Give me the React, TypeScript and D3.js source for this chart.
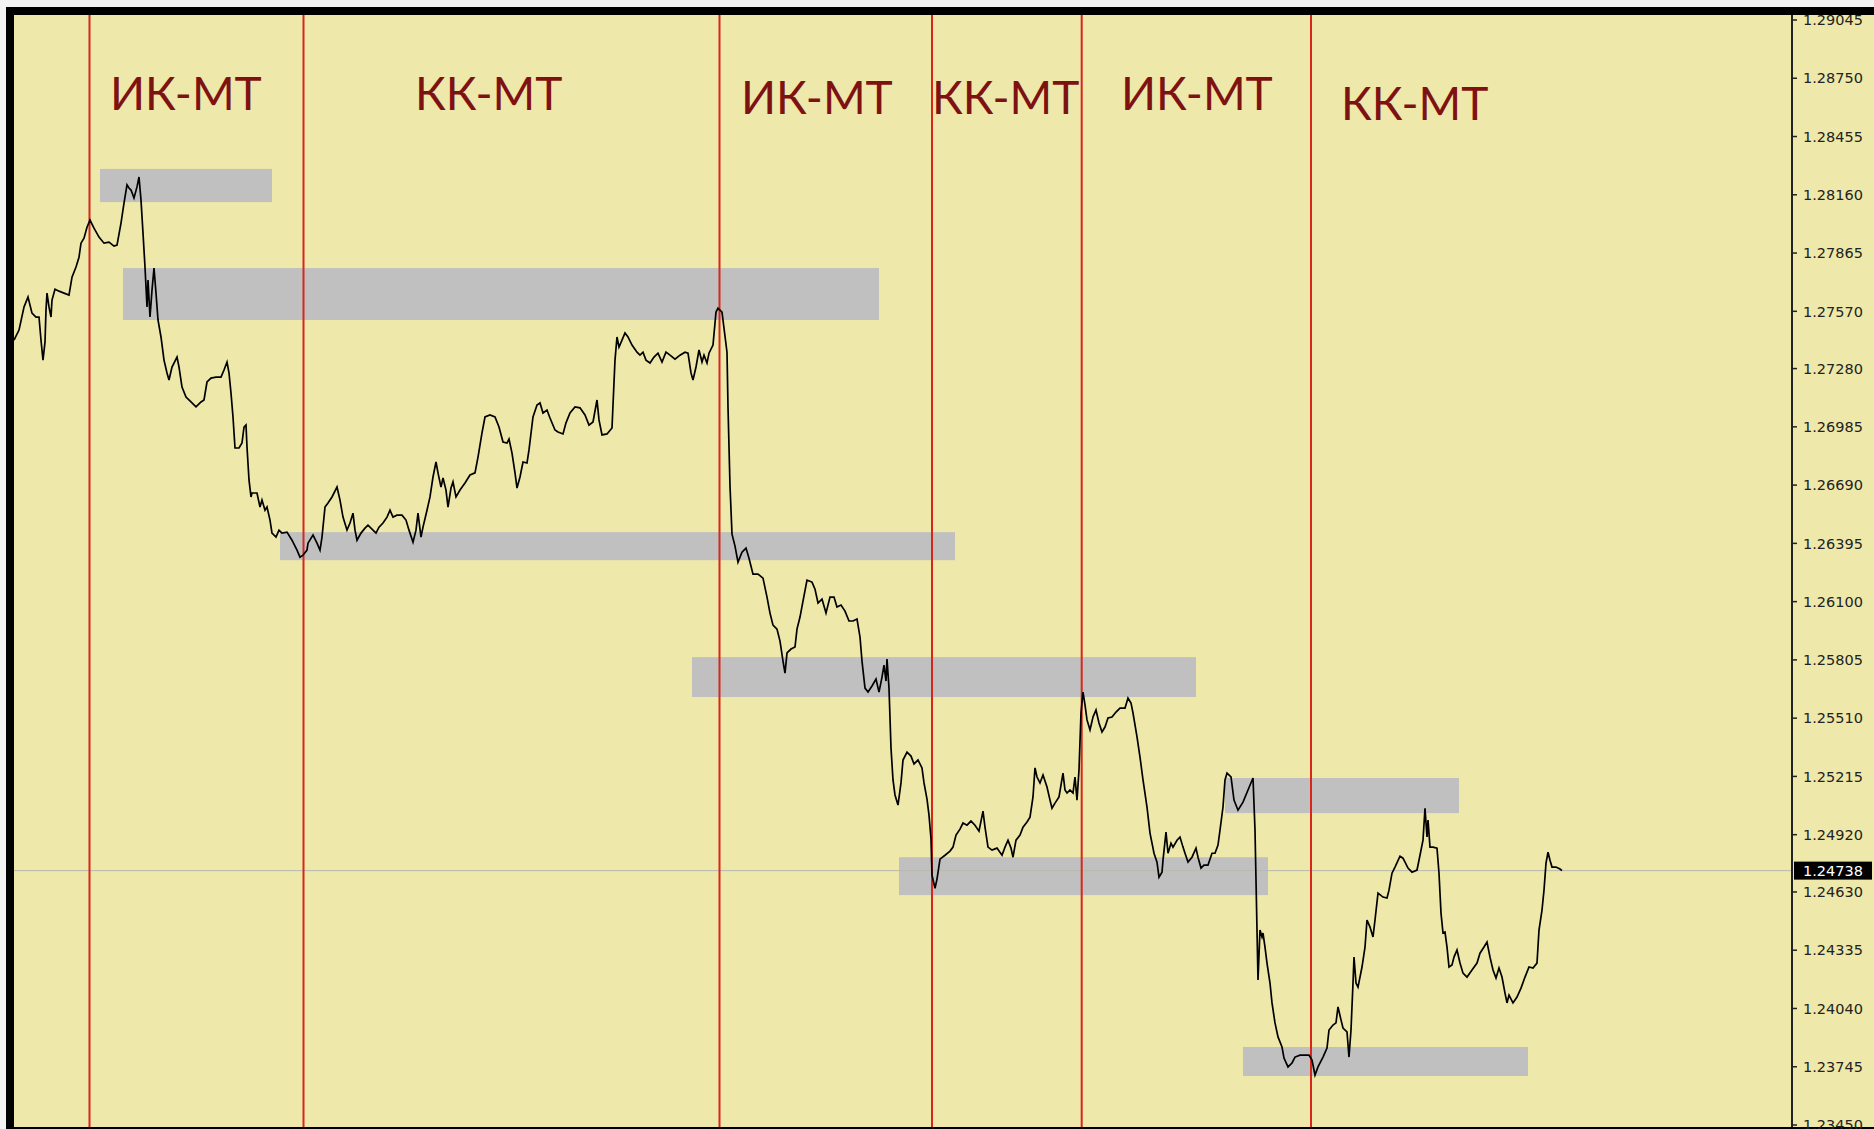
import React from "react";
import * as d3 from "d3";

// ---- data (bar index = time step, price) ----
const bars: number[] = [
  0,5,10,14,18,22,25,27,29,31,32,33,35,37,38,41,45,50,55,58,62,65,67,70,73,76,80,85,90,95,100,103,107,110,113,115,117,120,123,125,127,129,131,133,134,136,138,140,142,144,147,150,153,155,158,163,165,168,172,177,182,187,190,193,197,202,207,210,213,215,217,219,221,225,228,230,232,233,235,237,238,243,246,248,251,253,256,258,262,265,268,273,278,283,286,289,293,
  294,299,303,306,308,311,314,318,323,326,329,333,336,339,341,343,347,351,354,359,362,365,369,373,376,379,383,388,392,395,399,402,404,407,409,413,416,419,422,424,427,429,432,434,437,439,442,446,451,456,461,464,468,471,476,481,485,489,493,495,498,501,503,506,509,513,515,519,523,526,529,533,536,541,544,549,552,556,561,566,571,575,579,583,585,588,593,598,599,601,603,605,608,611,614,618,623,626,629,632,636,640,644,648,652,656,661,666,671,674,677,679,682,685,688,690,693,695,699,702,704,708,710,713,714,716,718,
  721,724,728,732,735,739,744,749,753,756,759,763,766,769,771,773,777,781,783,786,789,793,798,801,804,808,812,816,820,823,827,831,835,839,843,846,848,851,854,858,862,865,868,870,872,873,875,877,879,881,884,887,889,893,897,900,904,908,910,913,915,917,918,921,923,926,931,936,939,942,946,949,953,957,961,965,969,
  971,974,978,983,988,991,994,997,999,1002,1006,1009,1013,1016,1019,1021,1023,1026,1029,1033,1036,1038,1041,1045,1049,1051,1053,1056,1059,1061,1063,1065,1067,1069,1071,1073,1076,1079,1082,1085,1088,1091,1094,1098,1102,1106,1111,1114,1117,1119,1123,1126,1129,1133,1136,1139,1140,1143,1145,1148,1149,1152,1154,1157,1159,1163,1166,1169,1171,1174,1178,1182,1184,1187,1190,1194,1198,1201,1204,1206,1209,1211,1213,1217,1220,1224,1229,1234,1239,
  1241,1243,1244,1246,1248,1249,1251,1253,1256,1258,1261,1264,1268,1270,1274,1278,1281,1286,1291,1295,1298,1301,1304,1309,1313,1315,1319,1322,1324,1327,1329,1333,1335,1337,1339,1340,1342,1344,1348,1351,1353,1356,1359,1361,1364,1369,1373,1375,1378,1381,1386,1389,1394,1398,1403,1406,1409,1411,1413,1414,1416,1419,1423,1425,1427,1429,1431,1433,1435,1438,1440,1443,1446,1449,1453,1458,1463,1466,1470,1473,1476,1479,1482,1485,1488,1491,1493,1495,1499,1503,1507,1511,1515,1519,1523,1525,1528,1530,1532,1534,1536,1538,1542,1546,1548
];

const prices: number[] = [
  1.27424,1.27475,1.27592,1.27642,1.27561,1.27541,1.27541,1.27424,1.27323,1.27414,1.27576,1.27662,1.27592,1.27541,1.27627,1.27682,1.27672,1.27662,1.27652,1.27743,1.27794,1.27844,1.27915,1.27940,1.27996,1.28032,1.27991,1.27946,1.27915,1.27920,1.27900,1.27905,1.28017,1.28118,1.28210,1.28194,1.28184,1.28144,1.28200,1.28250,1.28133,1.27966,1.27794,1.27592,1.27728,1.27541,1.27677,1.27789,1.27662,1.27526,1.27440,1.27323,1.27258,1.27222,1.27288,1.27338,1.27288,1.27186,1.27136,1.27111,1.27086,1.27111,1.27121,1.27212,1.27232,1.27237,1.27237,1.27273,1.27313,1.27258,1.27156,1.27035,1.26878,1.26878,1.26903,1.26984,1.26994,1.26883,1.26716,1.26630,1.26650,1.26650,1.26579,1.26614,1.26563,1.26579,1.26513,1.26447,1.26427,1.26462,1.26447,1.26452,1.26411,1.26361,1.26325,1.26335,1.26361,
  1.26396,1.26437,1.26396,1.26361,1.26427,1.26579,1.26599,1.26630,1.26680,1.26614,1.26528,1.26462,1.26498,1.26548,1.26462,1.26411,1.26447,1.26472,1.26487,1.26462,1.26447,1.26477,1.26498,1.26528,1.26563,1.26528,1.26538,1.26538,1.26513,1.26462,1.26401,1.26462,1.26548,1.26427,1.26477,1.26563,1.26630,1.26731,1.26807,1.26752,1.26680,1.26726,1.26665,1.26579,1.26675,1.26706,1.26630,1.26665,1.26701,1.26741,1.26752,1.26832,1.26954,1.27035,1.27045,1.27035,1.26984,1.26908,1.26903,1.26923,1.26852,1.26752,1.26675,1.26731,1.26807,1.26802,1.26868,1.27035,1.27096,1.27106,1.27055,1.27070,1.27030,1.26969,1.26959,1.26949,1.27005,1.27055,1.27086,1.27081,1.27045,1.26994,1.27010,1.27121,1.27020,1.26944,1.26949,1.26979,1.27096,1.27323,1.27440,1.27389,1.27424,1.27460,1.27440,1.27399,1.27363,1.27348,1.27363,1.27323,1.27308,1.27338,1.27358,1.27313,1.27363,1.27348,1.27328,1.27348,1.27363,1.27358,1.27258,1.27222,1.27288,1.27374,1.27313,1.27348,1.27308,1.27358,1.27399,1.27566,1.27586,1.27566,1.27485,1.27363,1.27086,1.26686,1.26442,
  1.26381,1.26300,1.26350,1.26371,1.26320,1.26239,1.26239,1.26219,1.26123,1.26042,1.25981,1.25961,1.25900,1.25799,1.25738,1.25840,1.25860,1.25870,1.25961,1.26022,1.26103,1.26209,1.26199,1.26163,1.26093,1.26113,1.26042,1.26123,1.26123,1.26073,1.26083,1.26052,1.26002,1.26002,1.26012,1.25921,1.25799,1.25662,1.25642,1.25673,1.25708,1.25642,1.25718,1.25779,1.25698,1.25809,1.25662,1.25359,1.25197,1.25121,1.25070,1.25182,1.25298,1.25338,1.25318,1.25278,1.25298,1.25258,1.25182,1.25100,1.25019,1.24898,1.24715,1.24649,1.24695,1.24796,1.24816,1.24837,1.24857,1.24918,1.24948,1.24979,1.24968,1.24989,1.24968,1.24938,1.25039,
  1.24958,1.24857,1.24842,1.24852,1.24816,1.24857,1.24892,1.24852,1.24806,1.24892,1.24918,1.24958,1.24984,1.25009,1.25111,1.25258,1.25212,1.25182,1.25222,1.25161,1.25095,1.25054,1.25080,1.25111,1.25232,1.25146,1.25131,1.25146,1.25131,1.25212,1.25095,1.25248,1.25536,1.25642,1.25577,1.25501,1.25450,1.25516,1.25551,1.25486,1.25440,1.25465,1.25511,1.25516,1.25541,1.25561,1.25561,1.25612,1.25587,1.25536,1.25415,1.25313,1.25197,1.25060,1.24928,1.24852,1.24826,1.24781,1.24705,1.24730,1.24791,1.24933,1.24826,1.24877,1.24857,1.24892,1.24908,1.24857,1.24826,1.24781,1.24806,1.24852,1.24806,1.24751,1.24766,1.24766,1.24826,1.24826,1.24867,1.24943,1.25060,1.25197,1.25232,1.25212,1.25095,1.25044,1.25085,1.25146,1.25207,
  1.24943,1.24437,1.24184,1.24437,1.24402,1.24422,1.24351,1.24270,1.24169,1.24068,1.23967,1.23896,1.23845,1.23789,1.23744,1.23764,1.23794,1.23804,1.23804,1.23804,1.23779,1.23703,1.23744,1.23794,1.23840,1.23931,1.23956,1.23967,1.24048,1.23982,1.23941,1.23921,1.23794,1.23931,1.24169,1.24300,1.24169,1.24148,1.24250,1.24351,1.24488,1.24452,1.24402,1.24488,1.24624,1.24604,1.24599,1.24639,1.24725,1.24756,1.24811,1.24801,1.24751,1.24730,1.24741,1.24816,1.24892,1.25054,1.24908,1.24994,1.24857,1.24857,1.24852,1.24725,1.24523,1.24422,1.24427,1.24351,1.24250,1.24260,1.24300,1.24336,1.24270,1.24219,1.24199,1.24235,1.24270,1.24320,1.24351,1.24376,1.24300,1.24235,1.24194,1.24245,1.24199,1.24118,1.24068,1.24108,1.24068,1.24098,1.24143,1.24199,1.24250,1.24245,1.24270,1.24437,1.24538,1.24639,1.24776,1.24831,1.24791,1.24756,1.24756,1.24746,1.24738
];

// grey zones: [startBar, endBar, topPrice, bottomPrice]
const zoneStart: number[] = [86, 109, 266, 678, 885, 1211, 1229];
const zoneEnd: number[] = [258, 865, 941, 1182, 1254, 1445, 1514];
const zoneTop: number[] = [1.28291, 1.27789, 1.26452, 1.25819, 1.24806, 1.25207, 1.23845];
const zoneBottom: number[] = [1.28123, 1.27526, 1.26310, 1.25617, 1.24614, 1.25029, 1.23698];

// red vertical separators (bar index)
const separators: number[] = [75.5, 289.5, 705.5, 918, 1067.7, 1297];

// phase labels
const labelTexts: string[] = ["ИК-МТ", "КК-МТ", "ИК-МТ", "КК-МТ", "ИК-МТ", "КК-МТ"];
const labelBars: number[] = [96, 401, 727, 918, 1107, 1327];
const labelPrices: number[] = [1.28589, 1.28589, 1.28569, 1.28569, 1.28589, 1.28539];

// price axis
const tickValues: number[] = [
  1.29045, 1.2875, 1.28455, 1.2816, 1.27865, 1.2757, 1.2728, 1.26985, 1.2669, 1.26395,
  1.261, 1.25805, 1.2551, 1.25215, 1.2492, 1.2463, 1.24335, 1.2404, 1.23745, 1.2345,
];
const currentPrice = 1.24738;
const barDomain: number[] = [0, 1778];
const priceDomain: number[] = [1.2345, 1.29045];

const W = 1874;
const H = 1129;
const plotLeft = 14;
const plotTop = 15;
const axisX = 1792;
const plotBottom = 1127;

export default function App() {
  const x = d3.scaleLinear().domain(barDomain).range([plotLeft, axisX]);
  const y = d3.scaleLinear().domain(priceDomain).range([1125, 20]);

  const pts: [number, number][] = bars.map((b, i) => [b, prices[i]]);
  const line = d3
    .line<[number, number]>()
    .x((d) => x(d[0]))
    .y((d) => y(d[1]));

  const cy = y(currentPrice);

  return (
    <svg
      width={W}
      height={H}
      style={{ position: "absolute", left: 0, top: 0, display: "block" }}
    >
      <rect x={0} y={0} width={W} height={H} fill="#f3f3f3" />
      {/* frame */}
      <rect x={6} y={7} width={W - 6} height={H - 7} fill="#000" />
      <rect x={plotLeft} y={plotTop} width={W - plotLeft} height={plotBottom - plotTop} fill="#EEE8AA" />

      {/* zones */}
      {zoneStart.map((s, i) => (
        <rect
          key={"z" + i}
          x={x(s)}
          y={y(zoneTop[i])}
          width={x(zoneEnd[i]) - x(s)}
          height={y(zoneBottom[i]) - y(zoneTop[i])}
          fill="#C0C0C0"
        />
      ))}

      {/* current price line */}
      <line x1={plotLeft} x2={axisX} y1={cy} y2={cy} stroke="#b9b9ad" strokeWidth={1} />

      {/* separators */}
      {separators.map((s, i) => (
        <line
          key={"s" + i}
          x1={x(s)}
          x2={x(s)}
          y1={plotTop}
          y2={plotBottom}
          stroke="#d8261b"
          strokeWidth={2}
        />
      ))}

      {/* price line */}
      <path d={line(pts) || ""} fill="none" stroke="#000" strokeWidth={1.7} strokeLinejoin="miter" />

      {/* labels */}
      {labelTexts.map((t, i) => (
        <text
          key={"l" + i}
          x={x(labelBars[i])}
          y={y(labelPrices[i])}
          fill="#7e1212"
          fontFamily="Lato, 'Open Sans', sans-serif"
          fontSize={46}
        >
          {t}
        </text>
      ))}

      {/* axis */}
      <line x1={axisX} x2={axisX} y1={plotTop} y2={plotBottom} stroke="#222" strokeWidth={2} />
      {tickValues.map((v, i) => (
        <g key={"t" + i}>
          <line x1={axisX} x2={axisX + 5} y1={y(v)} y2={y(v)} stroke="#222" strokeWidth={1.5} />
          <text
            x={axisX + 11}
            y={y(v)}
            dy="0.36em"
            fill="#222"
            fontFamily="'DejaVu Sans', Verdana, sans-serif"
            fontSize={14.5}
          >
            {v.toFixed(5)}
          </text>
        </g>
      ))}
      <rect x={axisX + 2} y={cy - 9} width={78} height={18} fill="#000" />
      <text
        x={axisX + 11}
        y={cy}
        dy="0.36em"
        fill="#fff"
        fontFamily="'DejaVu Sans', Verdana, sans-serif"
        fontSize={14.5}
      >
        {currentPrice.toFixed(5)}
      </text>
    </svg>
  );
}
